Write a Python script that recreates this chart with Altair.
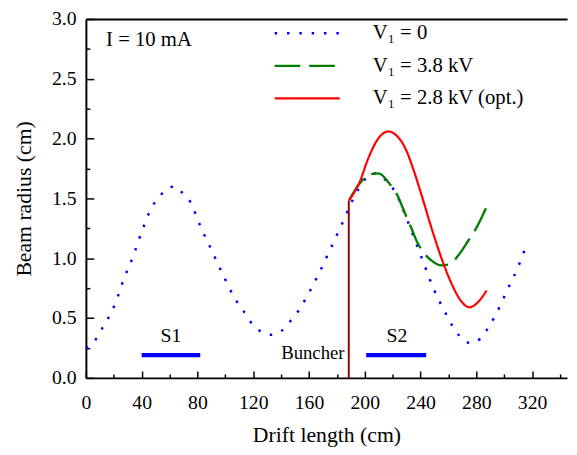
import altair as alt
import pandas as pd

# ---- data ----
series_names = ["V\u2081 = 0", "V\u2081 = 3.8 kV", "V\u2081 = 2.8 kV (opt.)"]
series_colors = ["#0000FF", "#008000", "#FF0000"]

blue_x = [0, 7, 12, 17, 21, 27, 34, 40, 47, 53, 60, 64, 68, 75, 82, 90, 98, 107, 113, 118,
          125, 133, 140, 147, 153, 158, 167, 175, 183, 191, 195, 201, 208, 216, 222, 229, 236,
          242.5, 249.5, 257.5, 262.5, 268, 276, 283, 288.5, 293.5, 302, 310, 316.5]
blue_y = [0.25, 0.32, 0.42, 0.52, 0.62, 0.82, 1.02, 1.22, 1.42, 1.52, 1.59, 1.60, 1.56, 1.47,
          1.27, 1.07, 0.87, 0.66, 0.56, 0.47, 0.39, 0.36, 0.39, 0.48, 0.57, 0.67, 0.87, 1.07,
          1.27, 1.48, 1.57, 1.67, 1.71, 1.64, 1.55, 1.36, 1.15, 0.95, 0.74, 0.55, 0.44, 0.35,
          0.29, 0.33, 0.42, 0.52, 0.73, 0.93, 1.13]

green_x = [188.9, 196, 203, 210, 217.2, 223.2, 229, 233.8, 237.3, 242, 247.9, 255, 260.9,
           266.8, 273.8, 279.8, 286.9]
green_y = [1.49, 1.62, 1.70, 1.71, 1.63, 1.53, 1.37, 1.24, 1.14, 1.05, 0.98, 0.94, 0.95,
           1.02, 1.14, 1.25, 1.42]

red_x = [188.5, 196, 203, 210.2, 216.8, 223.2, 229, 234.9, 240.9, 247.9, 255, 262.1, 269.2,
         275, 280.9, 287.3]
red_y = [1.48, 1.63, 1.85, 2.01, 2.06, 2.02, 1.92, 1.74, 1.52, 1.25, 1.00, 0.79, 0.64,
         0.59, 0.63, 0.73]

buncher_x = [188.5]
buncher_top = [1.48]

solenoid_names = ["S1", "S2"]
solenoid_start = [40, 201]
solenoid_end = [82, 244]
solenoid_level = [0.19, 0.19]
solenoid_label_x = [61, 223]
solenoid_label_y = [0.35, 0.35]

x_major = [0, 40, 80, 120, 160, 200, 240, 280, 320]
x_major_ticks = [0, 40, 80, 120, 160, 200, 240, 280, 320]
x_minor_ticks = [20, 60, 100, 140, 180, 220, 260, 300, 340]
y_major = [0.0, 0.5, 1.0, 1.5, 2.0, 2.5, 3.0]
y_minor_ticks = [0.25, 0.75, 1.25, 1.75, 2.25, 2.75]

FONT = 'Liberation Serif, "Times New Roman", "DejaVu Serif", serif'

rows = []
for name, xs, ys in zip(series_names, [blue_x, green_x, red_x], [blue_y, green_y, red_y]):
    for i, (xv, yv) in enumerate(zip(xs, ys)):
        rows.append({"series": name, "x": xv, "y": yv, "i": i})
lines_df = pd.DataFrame(rows)

xscale = alt.Scale(domain=[0, 345], nice=False, zero=False)
yscale = alt.Scale(domain=[0, 3], nice=False, zero=False)

main_x_axis = alt.Axis(orient="bottom", values=x_major, ticks=False, domainWidth=2,
                       domainColor="black", labelFont=FONT, labelFontSize=20,
                       labelColor="black", labelPadding=15, labelFlush=False, grid=False,
                       title="Drift length (cm)", titleFont=FONT, titleFontSize=22,
                       titleFontWeight="normal", titleColor="black", titlePadding=13,
                       format="d")
main_y_axis = alt.Axis(orient="left", values=y_major, ticks=False, domainWidth=2,
                       domainColor="black", labelFont=FONT, labelFontSize=20,
                       labelColor="black", labelPadding=10, labelFlush=False, grid=False,
                       format=".1f", title="Beam radius (cm)", titleFont=FONT,
                       titleFontSize=22, titleFontWeight="normal", titleColor="black",
                       titlePadding=16)

def tick_axis(orient, vals, size):
    return alt.Axis(orient=orient, values=vals, labels=False, domain=False, ticks=True,
                    tickSize=size, offset=-size, tickWidth=1.5, tickColor="black",
                    grid=False, title="")

top_axis = alt.Axis(orient="top", labels=False, ticks=False, domain=True, domainWidth=2,
                    domainColor="black", grid=False, title="")

legend = alt.Legend(orient="none", legendX=212, legendY=2, symbolType="M-3,0H3",
                    symbolSize=484, symbolStrokeWidth=2.5, labelFont=FONT, labelFontSize=21,
                    labelColor="black", rowPadding=10, labelOffset=54, labelLimit=400)

lines = alt.Chart(lines_df).mark_line(interpolate="monotone").encode(
    x=alt.X("x:Q", scale=xscale, axis=main_x_axis),
    y=alt.Y("y:Q", scale=yscale, axis=main_y_axis),
    color=alt.Color("series:N", scale=alt.Scale(domain=series_names, range=series_colors),
                    legend=legend, sort=series_names, title=None),
    strokeDash=alt.StrokeDash("series:N", scale=alt.Scale(domain=series_names,
                              range=[[2.5, 10], [26, 9], [1, 0]]), legend=legend,
                              sort=series_names, title=None),
    strokeWidth=alt.StrokeWidth("series:N", scale=alt.Scale(domain=series_names,
                                range=[2.5, 2.2, 2.5]), legend=None),
    order="i:Q",
)

buncher_df = pd.DataFrame({"x": buncher_x, "y0": [0.0] * len(buncher_x), "y1": buncher_top})
buncher = alt.Chart(buncher_df).mark_rule(color="#990000", strokeWidth=2).encode(
    x=alt.X("x:Q", scale=xscale, axis=tick_axis("bottom", x_major_ticks, 7)),
    y=alt.Y("y0:Q", scale=yscale, axis=tick_axis("left", y_major, 8)),
    y2="y1:Q",
)

sol_df = pd.DataFrame({"name": solenoid_names, "x0": solenoid_start, "x1": solenoid_end,
                       "y": solenoid_level, "lx": solenoid_label_x, "ly": solenoid_label_y})
sbars = alt.Chart(sol_df).mark_rule(color="#0000FF", strokeWidth=4.5).encode(
    x=alt.X("x0:Q", scale=xscale, axis=tick_axis("bottom", x_minor_ticks, 4)),
    x2="x1:Q",
    y=alt.Y("y:Q", scale=yscale, axis=tick_axis("left", y_minor_ticks, 4)),
)

slabels = alt.Chart(sol_df).mark_text(font=FONT, fontSize=20, color="black",
                                      baseline="middle", align="center").encode(
    x=alt.X("lx:Q", scale=xscale, axis=top_axis),
    y=alt.Y("ly:Q", scale=yscale, axis=None),
    text="name:N",
)

notes_df = pd.DataFrame({"t": ["Buncher", "I = 10 mA"], "x": [185.5, 14.5], "y": [0.21, 2.82]})
buncher_text = alt.Chart(notes_df.iloc[[0]]).mark_text(
    font=FONT, fontSize=19, color="black", baseline="middle", align="right").encode(
    x=alt.X("x:Q", scale=xscale, axis=None),
    y=alt.Y("y:Q", scale=yscale, axis=None),
    text="t:N",
)
current_text = alt.Chart(notes_df.iloc[[1]]).mark_text(
    font=FONT, fontSize=21, color="black", baseline="middle", align="left").encode(
    x=alt.X("x:Q", scale=xscale, axis=None),
    y=alt.Y("y:Q", scale=yscale, axis=None),
    text="t:N",
)

chart = alt.layer(lines, buncher, sbars, slabels, buncher_text, current_text).resolve_scale(
    x="independent", y="independent"
).resolve_axis(
    x="independent", y="independent"
).properties(
    width=488, height=364,
    autosize=alt.AutoSizeParams(type="none"),
    padding={"left": 79, "top": 8, "right": 2, "bottom": 70},
).configure_view(stroke=None)

chart.save("out.html", embed_options={"renderer": "svg", "actions": False})
